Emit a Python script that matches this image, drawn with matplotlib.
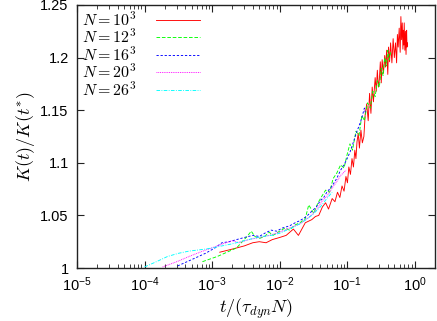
import math
import matplotlib
matplotlib.use("Agg")
import matplotlib.pyplot as plt
from matplotlib.ticker import FixedLocator, LogLocator, FuncFormatter, NullFormatter

plt.rcParams['mathtext.fontset'] = 'cm'
plt.rcParams['font.family'] = ['Liberation Sans', 'DejaVu Sans']

labels = [r'$N=10^3$', r'$N=12^3$', r'$N=16^3$', r'$N=20^3$', r'$N=26^3$']

x_red = [1.3e-3, 2e-3, 3e-3, 4e-3, 5e-3, 6.3e-3, 7.8e-3, 1.0e-2, 1.25e-2, 1.6e-2, 1.9e-2, 2.4e-2,
         3.0e-2, 3.4e-2, 3.8e-2, 4.3e-2, 4.8e-2, 5.3e-2, 6.0e-2, 6.6e-2, 7.2e-2, 7.8e-2, 8.4e-2,
         9.0e-2, 0.096, 0.101, 0.106, 0.112, 0.118, 0.124, 0.130, 0.135, 0.140, 0.146, 0.152,
         0.160, 0.168, 0.177, 0.185, 0.195, 0.205, 0.215, 0.225, 0.235, 0.245, 0.26, 0.27,
         0.28, 0.29, 0.30, 0.31, 0.32, 0.33, 0.345, 0.36, 0.37, 0.385, 0.40, 0.41, 0.425,
         0.44, 0.46, 0.48, 0.50, 0.52, 0.54, 0.555, 0.57, 0.59, 0.61, 0.625, 0.64, 0.655,
         0.67, 0.68, 0.69, 0.70, 0.715, 0.73, 0.745, 0.76, 0.77, 0.78]
y_red = [1.015, 1.018, 1.021, 1.024, 1.025, 1.024, 1.027, 1.029, 1.031, 1.037, 1.031, 1.043,
         1.046, 1.049, 1.050, 1.058, 1.062, 1.056, 1.066, 1.063, 1.072, 1.067, 1.078,
         1.073, 1.087, 1.081, 1.096, 1.089, 1.104, 1.096, 1.112, 1.104, 1.120, 1.128, 1.114,
         1.131, 1.119, 1.125, 1.146, 1.156, 1.140, 1.166, 1.147, 1.172, 1.158, 1.181, 1.168,
         1.188, 1.172, 1.179, 1.196, 1.176, 1.198, 1.185, 1.202, 1.191, 1.207, 1.184, 1.210,
         1.196, 1.214, 1.195, 1.218, 1.200, 1.214, 1.195, 1.222, 1.210, 1.228, 1.205, 1.239,
         1.217, 1.233, 1.208, 1.226, 1.212, 1.233, 1.207, 1.225, 1.203, 1.226, 1.210, 1.214]

x_green = [7.2e-4, 1.2e-3, 1.8e-3, 2.3e-3, 2.8e-3, 3.3e-3, 3.8e-3, 4.3e-3, 5e-3, 6e-3, 7e-3, 8e-3,
           1.0e-2, 1.2e-2, 1.4e-2, 1.7e-2, 2.0e-2, 2.4e-2, 2.7e-2, 3.2e-2, 3.7e-2, 4.2e-2,
           4.8e-2, 5.5e-2, 6.2e-2, 7.0e-2, 8.0e-2, 9.0e-2, 0.100, 0.110, 0.120, 0.135, 0.150,
           0.165, 0.180, 0.200, 0.220, 0.240, 0.260, 0.280, 0.300, 0.320, 0.340, 0.360,
           0.380, 0.400, 0.420, 0.440]
y_green = [1.006, 1.011, 1.016, 1.019, 1.025, 1.030, 1.035, 1.030, 1.028, 1.030, 1.034, 1.031,
           1.035, 1.038, 1.036, 1.041, 1.043, 1.047, 1.060, 1.052, 1.062, 1.068,
           1.074, 1.072, 1.085, 1.090, 1.098, 1.095, 1.108, 1.118, 1.112, 1.130, 1.126,
           1.145, 1.140, 1.157, 1.152, 1.168, 1.163, 1.178, 1.172, 1.190, 1.183, 1.200,
           1.192, 1.207, 1.198, 1.205]

x_blue = [3.1e-4, 5e-4, 8e-4, 1.1e-3, 1.4e-3, 1.8e-3, 2.3e-3, 3e-3, 4e-3, 5e-3, 6e-3, 7.5e-3,
          9e-3, 1.1e-2, 1.4e-2, 1.7e-2, 2e-2, 2.5e-2, 3e-2, 3.5e-2, 4e-2, 4.5e-2, 5e-2, 6e-2,
          7e-2, 8e-2, 9e-2, 0.10, 0.11, 0.12, 0.13, 0.14, 0.15, 0.16, 0.17, 0.18, 0.185]
y_blue = [1.002, 1.008, 1.014, 1.019, 1.024, 1.025, 1.027, 1.029, 1.031, 1.030, 1.033, 1.036,
          1.035, 1.038, 1.040, 1.043, 1.045, 1.049, 1.054, 1.058, 1.064, 1.067, 1.072, 1.078,
          1.085, 1.093, 1.098, 1.104, 1.110, 1.117, 1.124, 1.130, 1.135, 1.140, 1.146, 1.152, 1.148]

x_mag = [1.85e-4, 3e-4, 5e-4, 8e-4, 1.2e-3, 1.6e-3, 2e-3, 2.5e-3, 3.5e-3, 5e-3, 7e-3, 1e-2,
         1.4e-2, 2e-2, 2.7e-2, 3.5e-2, 4.3e-2, 5e-2, 6e-2, 7e-2, 8e-2, 9e-2, 0.096]
y_mag = [1.001, 1.006, 1.012, 1.017, 1.021, 1.024, 1.026, 1.024, 1.027, 1.029, 1.031, 1.034,
         1.038, 1.042, 1.048, 1.055, 1.064, 1.068, 1.076, 1.082, 1.088, 1.091, 1.093]

x_cyan = [1e-4, 1.5e-4, 2.2e-4, 3.2e-4, 4.5e-4, 6e-4, 8e-4, 1e-3, 1.4e-3, 2e-3, 3e-3, 4e-3,
          5.5e-3, 7.5e-3, 1e-2, 1.5e-2, 2e-2, 3e-2, 4e-2, 5e-2, 6e-2]
y_cyan = [1.001, 1.006, 1.011, 1.014, 1.016, 1.017, 1.018, 1.019, 1.021, 1.023, 1.026, 1.028,
          1.030, 1.031, 1.033, 1.038, 1.042, 1.050, 1.058, 1.066, 1.072]

yticks = [1.0, 1.05, 1.1, 1.15, 1.2, 1.25]
ytick_labels = ['1', '1.05', '1.1', '1.15', '1.2', '1.25']
xticks = [1e-5, 1e-4, 1e-3, 1e-2, 1e-1, 1e0]

fig = plt.figure(figsize=(4.37, 3.21), dpi=100)
ax = fig.add_axes([77/437, 53/321, 358/437, 263/321])

lw = 0.65
ax.plot(x_red, y_red, color='#ff0000', lw=lw, ls='-', label=labels[0])
ax.plot(x_green, y_green, color='#00ff00', lw=lw, ls=(0, (4, 2)), label=labels[1])
ax.plot(x_blue, y_blue, color='#0000ff', lw=lw, ls=(0, (2.5, 2)), label=labels[2])
ax.plot(x_mag, y_mag, color='#ff00ff', lw=lw, ls=(0, (1, 1)), label=labels[3])
ax.plot(x_cyan, y_cyan, color='#00ffff', lw=lw, ls=(0, (4, 1.5, 1, 1.5)), label=labels[4])

ax.set_xscale('log')
ax.set_xlim(1e-5, 2)
ax.set_ylim(1.0, 1.25)
ax.yaxis.set_major_locator(FixedLocator(yticks))
ax.set_yticklabels(ytick_labels)
ax.xaxis.set_major_locator(FixedLocator(xticks))
ax.xaxis.set_minor_locator(LogLocator(base=10, subs=range(2, 10), numticks=20))
ax.xaxis.set_minor_formatter(NullFormatter())
ax.xaxis.set_major_formatter(FuncFormatter(lambda v, p: r'$\mathregular{10^{%d}}$' % round(math.log10(v))))

ax.tick_params(which='both', direction='in', top=True, right=True, labelsize=10.5, color='#222222')
ax.tick_params(which='major', length=5, width=0.8)
ax.tick_params(which='minor', length=3, width=0.6)
ax.tick_params(axis='x', pad=5)
ax.tick_params(axis='y', pad=6)
for s in ax.spines.values():
    s.set_linewidth(1.0)
    s.set_color('#222222')

ax.set_xlabel(r'$t/(\tau_{dyn}N)$', fontsize=13, labelpad=2)
ax.set_ylabel(r'$K(t)/K(t^{*})$', fontsize=13, labelpad=2)

leg = ax.legend(loc='upper left', frameon=False, markerfirst=False, fontsize=11.5,
                handlelength=2.8, labelspacing=-0.05, borderaxespad=0.1, handletextpad=1.2,
                borderpad=0.2, bbox_to_anchor=(0.0, 1.0))

fig.savefig('out.png', dpi=100)
